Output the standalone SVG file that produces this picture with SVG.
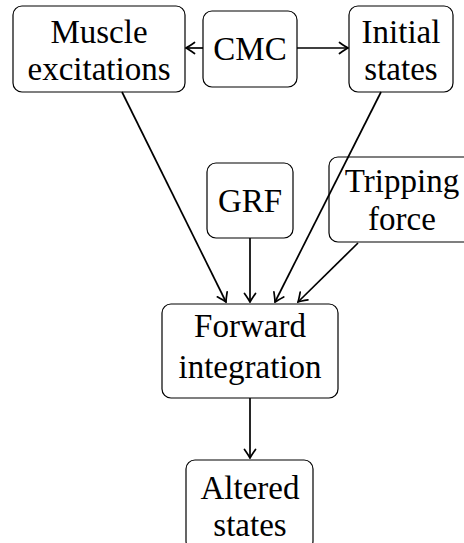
<svg xmlns="http://www.w3.org/2000/svg" width="464" height="543" viewBox="0 0 464 543">
<defs>
<style>
.box{fill:#fff;stroke:#000;stroke-width:1.2}
.t{font-family:"Liberation Serif","Times New Roman",serif;font-size:33px;fill:#000;text-anchor:middle}
.c{fill:none;stroke:#000;stroke-width:1.7}
</style>
<marker id="ah" viewBox="-10 -7 11 14" refX="0" refY="0" markerWidth="11" markerHeight="14" markerUnits="userSpaceOnUse" orient="auto">
<path d="M-8.5,-5.5 Q-2.5,-1.3 0,0 Q-2.5,1.3 -8.5,5.5" fill="none" stroke="#000" stroke-width="1.7" stroke-linecap="round"/>
</marker>
</defs>
<rect width="464" height="543" fill="#fff"/>
<g id="muscle">
<rect class="box" x="13" y="6" width="172" height="86" rx="9"/>
<text class="t" x="99" y="43">Muscle</text>
<text class="t" x="99" y="80">excitations</text>
</g>
<g id="cmc">
<rect class="box" x="203" y="11" width="94" height="76" rx="9"/>
<text class="t" x="250" y="60">CMC</text>
</g>
<g id="initial">
<rect class="box" x="349" y="6" width="104" height="86" rx="9"/>
<text class="t" x="401" y="43">Initial</text>
<text class="t" x="401" y="80">states</text>
</g>
<g id="grf">
<rect class="box" x="207" y="163" width="86" height="75" rx="9"/>
<text class="t" x="250" y="212">GRF</text>
</g>
<g id="tripping">
<rect class="box" x="329" y="157" width="146" height="85" rx="9"/>
<text class="t" x="402" y="192">Tripping</text>
<text class="t" x="402" y="230">force</text>
</g>
<g id="forward">
<rect class="box" x="162" y="304" width="176" height="94" rx="9"/>
<text class="t" x="250" y="337">Forward</text>
<text class="t" x="250" y="378">integration</text>
</g>
<g id="altered">
<rect class="box" x="186" y="460" width="127" height="90" rx="9"/>
<text class="t" x="250" y="499">Altered</text>
<text class="t" x="250" y="536">states</text>
</g>
<g id="connectors">
<line class="c" x1="203" y1="48" x2="186" y2="48" marker-end="url(#ah)"/>
<line class="c" x1="297" y1="48" x2="348" y2="48" marker-end="url(#ah)"/>
<line class="c" x1="122" y1="92" x2="226" y2="302" marker-end="url(#ah)"/>
<line class="c" x1="250" y1="238" x2="250" y2="302" marker-end="url(#ah)"/>
<line class="c" x1="381" y1="92" x2="275" y2="302" marker-end="url(#ah)"/>
<line class="c" x1="358" y1="243" x2="298" y2="302" marker-end="url(#ah)"/>
<line class="c" x1="250" y1="398" x2="250" y2="458" marker-end="url(#ah)"/>
</g>
</svg>
